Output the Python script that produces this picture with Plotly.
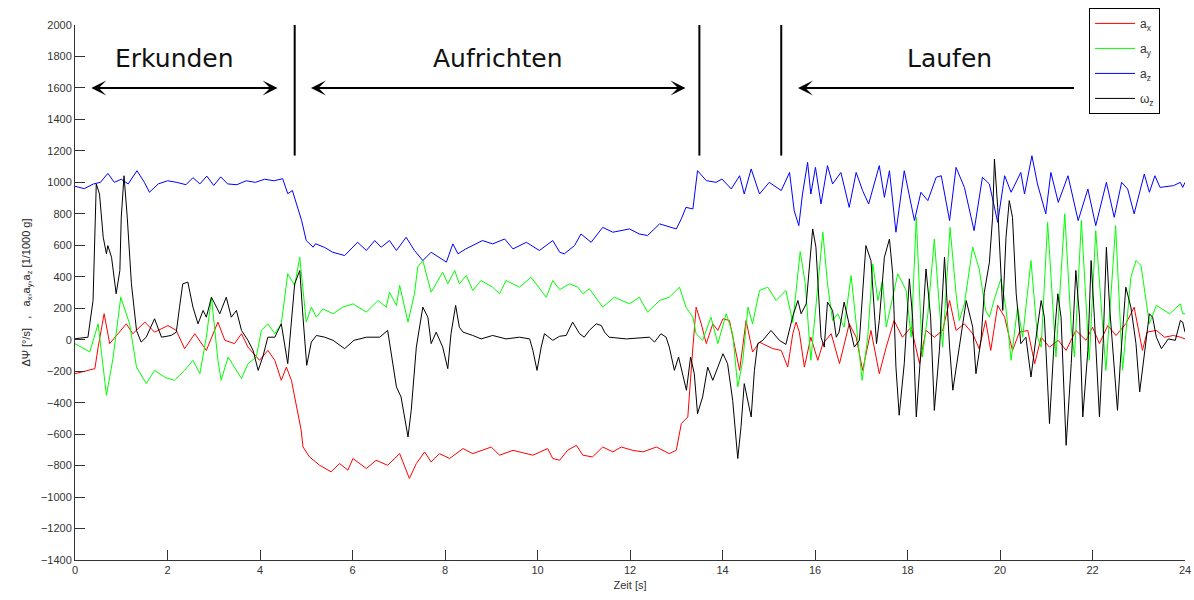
import plotly.graph_objects as go

# ---- a_x (red) ----
t_ax = [0, 0.2, 0.43, 0.5, 0.63, 0.75, 0.93, 1.11, 1.25, 1.51, 1.72, 2.01, 2.19, 2.37, 2.59, 2.84,
        3.09, 3.24, 3.45, 3.6, 3.74, 3.99, 4.17, 4.32, 4.46, 4.57, 4.68, 4.78, 4.89, 4.93, 5.07, 5.29,
        5.54, 5.72, 5.9, 6.01, 6.3, 6.51, 6.76, 7.02, 7.23, 7.38, 7.56, 7.7, 7.88, 8.1, 8.39, 8.6,
        9.0, 9.18, 9.47, 9.9, 10.22, 10.33, 10.48, 10.65, 10.84, 10.98, 11.19, 11.41, 11.63, 11.81,
        12.06, 12.28, 12.57, 12.85, 13.0, 13.11, 13.25, 13.36, 13.43, 13.54, 13.65, 13.79, 13.9, 14.01,
        14.15, 14.37, 14.51, 14.65, 14.8, 15.09, 15.27, 15.41, 15.52, 15.59, 15.66, 15.77, 15.91, 16.06,
        16.17, 16.35, 16.53, 16.74, 16.89, 17.03, 17.21, 17.39, 17.54, 17.71, 17.89, 18.08, 18.26, 18.4,
        18.58, 18.76, 18.91, 19.05, 19.23, 19.41, 19.55, 19.69, 19.8, 19.95, 20.1, 20.2, 20.27, 20.42,
        20.6, 20.75, 20.89, 21.07, 21.26, 21.43, 21.64, 21.86, 22.0, 22.15, 22.33, 22.51, 22.72, 22.9,
        23.08, 23.18, 23.38, 23.56, 23.75, 23.9, 24.0]
v_ax = [-216, -200, -184, -47, 165, -25, 38, 101, 38, 112, 48, 90, 59, -57, 38, -68,
        112, -4, -25, 38, -47, -131, -68, -131, -258, -174, -258, -406, -575, -681, -745, -798,
        -840, -787, -829, -755, -819, -766, -798, -724, -882, -787, -713, -777, -724, -755, -692, -724,
        -682, -734, -703, -734, -692, -755, -766, -703, -671, -734, -745, -682, -713, -682,
        -703, -713, -682, -724, -703, -533, -491, -47, 207, 101, -25, 101, 59, 133,
        122, -195, 122, -78, -16, -57, -68, -174, 38, 112, 50, -174, 16, -131,
        -25, 38, -152, 101, 16, -195, 59, -216, -47, 122, 16, 80, -152, 59,
        16, 59, 249, 59, 101, 38, -57, 122, -68, 218, 143, 16, -68, 48,
        59, -152, 16, -47, -4, -68, 59, -4, 80, -25, 90, 27, 101, 207,
        -68, 48, 59, 16, 27, 16, 5]

# ---- a_y (green) ----
t_ay = [0, 0.32, 0.5, 0.68, 0.82, 0.99, 1.18, 1.33, 1.54, 1.72, 1.95, 2.15, 2.37, 2.55, 2.7, 2.84,
        2.95, 3.09, 3.16, 3.31, 3.6, 3.74, 3.92, 4.03, 4.17, 4.32, 4.46, 4.6, 4.75, 4.86, 5.0, 5.11,
        5.22, 5.36, 5.58, 5.79, 6.01, 6.3, 6.55, 6.73, 6.8, 6.95, 7.02, 7.2, 7.34, 7.41, 7.52, 7.7,
        7.95, 8.06, 8.21, 8.31, 8.46, 8.6, 8.78, 9.03, 9.18, 9.32, 9.61, 9.86, 10.19, 10.33, 10.48,
        10.69, 10.87, 10.98, 11.12, 11.41, 11.66, 11.99, 12.2, 12.38, 12.64, 12.85, 13.07, 13.21, 13.36,
        13.43, 13.57, 13.75, 13.9, 14.08, 14.22, 14.33, 14.44, 14.55, 14.65, 14.8, 14.98, 15.16, 15.37,
        15.52, 15.68, 15.79, 15.91, 16.17, 16.27, 16.38, 16.49, 16.63, 16.78, 16.89, 17.02, 17.14, 17.25,
        17.36, 17.46, 17.54, 17.79, 17.97, 18.08, 18.19, 18.26, 18.32, 18.44, 18.58, 18.69, 18.76, 18.92,
        19.05, 19.12, 19.23, 19.41, 19.55, 19.69, 19.77, 19.88, 20.02, 20.13, 20.24, 20.38, 20.49, 20.67,
        20.81, 20.89, 21.03, 21.21, 21.4, 21.54, 21.61, 21.76, 21.93, 22.07, 22.29, 22.5, 22.65, 22.83,
        22.94, 23.05, 23.23, 23.38, 23.67, 23.9, 23.95, 24.0]
v_ay = [-25, -78, 101, -353, -121, 270, 101, -174, -279, -195, -240, -258, -195, -131, -216, 16,
        270, -131, -258, -110, -247, -152, -110, 59, 101, 38, 101, 419, 345, 524, 112, 207,
        143, 196, 165, 207, 228, 175, 249, 207, 302, 217, 345, 112, 292, 461, 503, 302,
        429, 355, 440, 355, 408, 313, 376, 334, 292, 376, 334, 397, 270, 376, 318,
        355, 334, 292, 324, 207, 270, 228, 270, 175, 249, 270, 334, 207, 143,
        38, -4, 143, -25, 165, 38, -300, -131, 207, 101, 313, 334, 249, 313,
        110, 560, 355, -131, 683, 355, 122, 165, 80, 408, 122, -258, 16, 482,
        249, 376, 80, 419, 313, 16, 778, 249, -110, 165, 640, 207, -47, 714,
        292, 122, 228, 588, 450, 186, 143, 260, 387, 197, -131, 207, 16, 503,
        16, -47, 746, -110, 800, 80, -110, 757, -131, 693, -195, 725, -195, 397,
        503, 471, 101, 218, 165, 228, 165, 165]

# ---- a_z (blue) ----
t_az = [0, 0.2, 0.4, 0.55, 0.71, 0.85, 1.0, 1.15, 1.34, 1.5, 1.61, 1.8, 2.0, 2.2, 2.4, 2.55,
        2.7, 2.85, 3.0, 3.15, 3.3, 3.5, 3.7, 3.9, 4.1, 4.3, 4.49, 4.6, 4.7, 4.9, 5.0, 5.15,
        5.2, 5.4, 5.57, 5.83, 6.11, 6.3, 6.48, 6.62, 6.8, 6.95, 7.16, 7.34, 7.52, 7.7, 8.03, 8.17,
        8.28, 8.45, 8.81, 9.03, 9.29, 9.47, 9.76, 10.04, 10.33, 10.48, 10.58, 10.8, 10.94, 11.16,
        11.41, 11.63, 11.99, 12.2, 12.38, 12.64, 13.0, 13.11, 13.21, 13.36, 13.46, 13.65, 13.86, 13.99,
        14.19, 14.37, 14.47, 14.62, 14.8, 15.01, 15.27, 15.45, 15.55, 15.65, 15.73, 15.84, 15.91, 16.01,
        16.13, 16.27, 16.38, 16.56, 16.74, 16.89, 17.03, 17.16, 17.39, 17.5, 17.61, 17.75, 17.93, 18.15,
        18.29, 18.44, 18.62, 18.73, 18.91, 19.05, 19.23, 19.44, 19.62, 19.77, 19.95, 20.1, 20.24, 20.45,
        20.53, 20.69, 20.81, 20.99, 21.1, 21.26, 21.47, 21.69, 21.9, 22.07, 22.3, 22.47, 22.63, 22.76,
        22.9, 23.12, 23.23, 23.35, 23.46, 23.75, 23.9, 23.95, 24.0]
v_az = [975, 960, 990, 1000, 1057, 1000, 1020, 990, 1074, 1000, 937, 990, 1010, 1000, 985, 1030,
        990, 1040, 980, 1035, 990, 985, 1010, 1000, 1020, 1010, 1023, 928, 948, 757, 630, 588,
        610, 586, 556, 535, 619, 567, 630, 588, 630, 567, 651, 567, 503, 556, 493, 609,
        546, 577, 630, 609, 640, 577, 619, 567, 630, 556, 546, 598, 672, 619,
        714, 683, 704, 672, 662, 736, 704, 768, 841, 831, 1074, 1011, 1000, 1021,
        958, 1042, 926, 1085, 926, 1000, 948, 1063, 820, 725, 926, 1127, 926, 1095,
        863, 1106, 990, 1063, 841, 1063, 947, 863, 1106, 905, 1074, 683, 1074, 757,
        937, 884, 1032, 1042, 757, 1095, 968, 693, 1032, 990, 746, 1042, 937, 1063,
        926, 1169, 990, 800, 1063, 873, 1042, 757, 958, 725, 1000, 778, 1000, 958,
        800, 1053, 937, 1042, 968, 979, 1000, 968, 1000]

# ---- omega_z (black) ----
t_wz = [0, 0.28, 0.39, 0.46, 0.53, 0.61, 0.68, 0.71, 0.79, 0.89, 0.97, 1.0, 1.06, 1.13, 1.22, 1.33,
        1.43, 1.54, 1.72, 1.87, 2.08, 2.19, 2.26, 2.33, 2.44, 2.55, 2.66, 2.77, 2.84, 2.95, 3.06, 3.13,
        3.27, 3.38, 3.49, 3.6, 3.74, 3.85, 3.96, 4.06, 4.17, 4.32, 4.46, 4.6, 4.75, 4.86, 4.93, 5.01,
        5.11, 5.22, 5.4, 5.58, 5.83, 6.03, 6.3, 6.59, 6.76, 6.84, 6.95, 7.05, 7.13, 7.2, 7.27, 7.38,
        7.52, 7.63, 7.7, 7.81, 7.95, 8.06, 8.13, 8.23, 8.31, 8.39, 8.6, 8.78, 9.03, 9.32, 9.61, 9.83,
        9.9, 9.99, 10.08, 10.15, 10.33, 10.48, 10.62, 10.76, 10.91, 11.01, 11.12, 11.27, 11.38, 11.45,
        11.55, 11.92, 12.42, 12.53, 12.67, 12.78, 12.85, 12.96, 13.05, 13.14, 13.22, 13.31, 13.39, 13.46,
        13.57, 13.68, 13.79, 13.9, 14.01, 14.11, 14.22, 14.33, 14.4, 14.47, 14.55, 14.62, 14.69, 14.76,
        14.87, 15.05, 15.23, 15.37, 15.52, 15.63, 15.7, 15.81, 15.95, 16.02, 16.13, 16.2, 16.27, 16.38,
        16.46, 16.52, 16.63, 16.74, 16.85, 16.96, 17.1, 17.21, 17.33, 17.39, 17.5, 17.61, 17.68, 17.75,
        17.82, 17.93, 18.04, 18.11, 18.19, 18.29, 18.4, 18.5, 18.58, 18.69, 18.8, 18.91, 18.98, 19.12,
        19.27, 19.41, 19.48, 19.59, 19.66, 19.77, 19.84, 19.88, 19.95, 20.06, 20.13, 20.2, 20.27, 20.35,
        20.45, 20.56, 20.67, 20.78, 20.89, 20.96, 21.07, 21.18, 21.25, 21.32, 21.43, 21.54, 21.64, 21.72,
        21.79, 21.9, 21.97, 22.04, 22.15, 22.23, 22.3, 22.37, 22.54, 22.6, 22.72, 22.83, 22.94, 23.02,
        23.12, 23.23, 23.3, 23.38, 23.49, 23.64, 23.79, 23.9, 23.95, 24.0]
v_wz = [6, 16, 249, 990, 926, 651, 546, 598, 524, 292, 440, 778, 1042, 778, 355, 59,
        -15, 16, 133, 16, 27, 48, 207, 355, 366, 207, 101, 186, 143, 270, 207, 165,
        270, 143, 186, 59, -4, -68, -195, -110, 16, 16, 101, -152, 355, 440, 143, -163,
        -15, 27, 16, -4, -57, -4, 16, 16, 59, -89, -300, -364, -512, -618, -448, -47,
        207, 143, -25, 48, -47, -184, 38, 218, 80, 48, 27, 5, 27, 5, 16, 5,
        -68, -195, -47, 38, -4, 22, 27, 112, 38, 16, 59, 101, 90, 48,
        16, 5, 16, -15, 38, 16, -47, -195, -110, -216, -321, -110, -216, -470,
        -364, -174, -258, -174, -89, -152, -385, -755, -554, -279, -385, -491, -195, -25,
        -4, 59, -4, -30, 150, 249, 165, 228, 704, 588, 16, -47, 239, 186,
        16, 48, 239, 101, -47, -4, 598, 503, -25, 122, 524, 640, 419, -174,
        -480, -152, 387, 143, -491, -68, 450, 143, -449, -68, 524, -47, -321, -47,
        249, 80, -216, 0, 300, 490, 778, 1148, 841, 186, 651, 884, 778, 292,
        -25, 16, -237, 16, 249, 143, -533, 38, 292, 143, -671, -152, 440, 143,
        -491, -68, 503, 143, -491, -25, 588, 207, -449, -152, 334, 207, -25, -332,
        -110, 165, 143, 16, -57, 5, -4, 122, 112, 48]

# phase annotations: label, label position, arrow span
phase_labels = ["Erkunden", "Aufrichten", "Laufen"]
phase_label_x = [2.16, 9.14, 18.9]
phase_label_y = 1785
arrow_y = 1600
arrow_spans = [(0.32, 4.38), (5.07, 13.2), (15.6, 21.6)]
arrow_sides = ["end+start", "end+start", "start"]
divider_x = [4.75, 13.5, 15.27]
divider_y = (1170, 2010)

fig = go.Figure()
series = [
    ("a<sub>x</sub>", t_ax, v_ax, "#ff0000"),
    ("a<sub>y</sub>", t_ay, v_ay, "#00ff00"),
    ("a<sub>z</sub>", t_az, v_az, "#0000ff"),
    ("ω<sub>z</sub>", t_wz, v_wz, "#000000"),
]
for i, (name, t, v, c) in enumerate(series):
    fig.add_trace(go.Scatter(x=t, y=v, mode="lines", name=name, legendgroup=str(i),
                             line=dict(color=c, width=1)))

for xv in divider_x:
    fig.add_shape(type="line", x0=xv, x1=xv, y0=divider_y[0], y1=divider_y[1],
                  xref="x", yref="y", line=dict(color="black", width=2))

for (a, b), side in zip(arrow_spans, arrow_sides):
    fig.add_annotation(x=b, y=arrow_y, ax=a, ay=arrow_y, xref="x", yref="y",
                       axref="x", ayref="y", text="", showarrow=True,
                       arrowhead=3, startarrowhead=3, arrowside=side,
                       arrowsize=1.25, startarrowsize=1.25, arrowwidth=2, arrowcolor="black",
                       standoff=0, startstandoff=0)

for lab, xv in zip(phase_labels, phase_label_x):
    fig.add_annotation(x=xv, y=phase_label_y, xref="x", yref="y", text=lab, showarrow=False,
                       font=dict(family="DejaVu Sans", size=25, color="#111111"))

axis_common = dict(showline=True, linecolor="#333333", linewidth=1, showgrid=False,
                   zeroline=False, ticks="inside", ticklen=10, tickcolor="#333333",
                   automargin=False,
                   tickfont=dict(family="Liberation Sans", size=11, color="#333333"))

fig.update_layout(
    width=1194, height=600,
    margin=dict(l=75, r=9, t=24, b=40),
    plot_bgcolor="white", paper_bgcolor="white",
    xaxis=dict(range=[0, 24], tickvals=list(range(0, 25, 2)),
               title=dict(text="Zeit [s]", standoff=6,
                          font=dict(family="Liberation Sans", size=11, color="#333333")),
               **axis_common),
    yaxis=dict(range=[-1400, 2000], tickvals=list(range(-1400, 2001, 200)),
               title=dict(text="ΔΨ [°/s]   ,   a<sub>x</sub>,a<sub>y</sub>,a<sub>z</sub> [1/1000 g]",
                          standoff=8,
                          font=dict(family="Liberation Sans", size=11, color="#222222")),
               **axis_common),
    legend=dict(x=0.9135, y=1.03, xanchor="left", yanchor="top",
                bordercolor="black", borderwidth=1, bgcolor="white",
                tracegroupgap=6, itemwidth=40,
                font=dict(family="Liberation Sans", size=12, color="#333333")),
    showlegend=True,
)

fig.write_html("out.html")
